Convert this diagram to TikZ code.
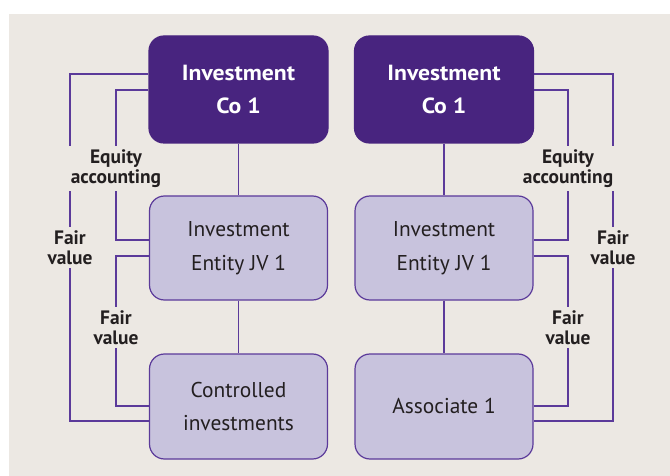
\documentclass[tikz,border=0pt]{standalone}
\usepackage{fontspec}
\setmainfont{PT Sans}
\newfontfamily\topfont{PT Sans}[FakeStretch=1.08]
\definecolor{bg}{HTML}{ECE8E3}
\definecolor{dark}{HTML}{48247F}
\definecolor{lightbox}{HTML}{C8C3DD}
\definecolor{edge}{HTML}{5B3A9A}
\definecolor{txt}{HTML}{231F20}
\begin{document}
\begin{tikzpicture}[x=1bp,y=-1bp,
  topbox/.style={draw=dark, fill=dark, rounded corners=15bp, minimum width=179bp, minimum height=107bp, text=white, font=\topfont\fontsize{22}{33}\selectfont\bfseries, align=center, line width=1.2bp, inner sep=0pt},
  subbox/.style={draw=edge, fill=lightbox, rounded corners=15bp, minimum width=178bp, minimum height=104bp, text=txt, font=\fontsize{21.5}{34}\selectfont, align=center, line width=1.2bp, inner sep=0pt},
  link/.style={draw=edge, line width=1.3bp},
  lbl/.style={fill=bg, text=txt, font=\fontsize{19.5}{20}\selectfont\bfseries, align=center, inner xsep=2bp, inner ysep=3.5bp}]
\useasboundingbox (0,0) rectangle (670,476);
\fill[white] (0,0) rectangle (670,476);
\fill[bg] (9,14) rectangle (670,476);
% nodes
\node[topbox] (tl) at (238.5,89.5) {Investment\\Co 1};
\node[topbox] (tr) at (444,89.5) {Investment\\Co 1};
\node[subbox] (ml) at (238.5,248) {Investment\\Entity JV 1};
\node[subbox] (mr) at (444,248) {Investment\\Entity JV 1};
\node[subbox, minimum height=105bp] (bl) at (238.5,406.5) {Controlled\\investments};
\node[subbox, minimum height=105bp] (br) at (444,406.5) {Associate 1};
% column coordinates
\coordinate (lo) at (70,0);
\coordinate (li) at (116,0);
\coordinate (ri) at (568,0);
\coordinate (ro) at (613,0);
% vertical links
\draw[link] (tl) -- (ml);
\draw[link] (ml) -- (bl);
\draw[link] (tr) -- (mr);
\draw[link] (mr) -- (br);
% left side
\draw[link] ([yshift=15.5bp]tl.west) -- ([yshift=15.5bp]tl.west -| lo) |- ([yshift=-14.5bp]bl.west);
\draw[link] ([yshift=-0.5bp]tl.west) -- ([yshift=-0.5bp]tl.west -| li) |- ([yshift=8bp]ml.west);
\draw[link] ([yshift=-8bp]ml.west) -- ([yshift=-8bp]ml.west -| li) |- ([yshift=0.5bp]bl.west);
% right side
\draw[link] ([yshift=15.5bp]tr.east) -- ([yshift=15.5bp]tr.east -| ro) |- ([yshift=-14.5bp]br.east);
\draw[link] ([yshift=-0.5bp]tr.east) -- ([yshift=-0.5bp]tr.east -| ri) |- ([yshift=8bp]mr.east);
\draw[link] ([yshift=-8bp]mr.east) -- ([yshift=-8bp]mr.east -| ri) |- ([yshift=0.5bp]br.east);
% labels
\node[lbl] (eql) at (116,168.5) {Equity\\accounting};
\node[lbl] (eqr) at (568,168.5) {Equity\\accounting};
\node[lbl] (fvlo) at (70,247.5) {Fair\\value};
\node[lbl] (fvro) at (613,247.5) {Fair\\value};
\node[lbl] (fvli) at (116,327.5) {Fair\\value};
\node[lbl] (fvri) at (568,327.5) {Fair\\value};
\end{tikzpicture}
\end{document}
